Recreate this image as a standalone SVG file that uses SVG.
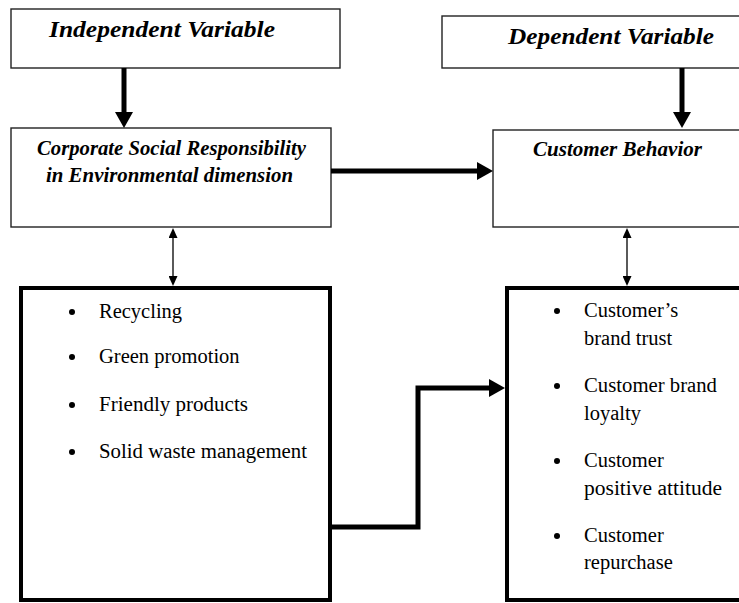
<svg xmlns="http://www.w3.org/2000/svg" width="739" height="603" viewBox="0 0 739 603">
<style>
.thin{fill:#fff;stroke:#222;stroke-width:1.4}
.thick{fill:#fff;stroke:#000;stroke-width:4}
.title{font-family:"Liberation Serif","Times New Roman",serif;font-weight:bold;font-style:italic;font-size:24px;fill:#000}
.head{font-family:"Liberation Serif","Times New Roman",serif;font-weight:bold;font-style:italic;font-size:20.5px;fill:#000}
.item{font-family:"Liberation Serif","Times New Roman",serif;font-size:20.5px;fill:#000}
.bul{fill:#000}
.big{fill:none;stroke:#000;stroke-width:5}
.small{fill:none;stroke:#000;stroke-width:1.3}
</style>
<defs>
<marker id="bigHead" markerUnits="userSpaceOnUse" markerWidth="17" markerHeight="18" viewBox="0 0 16 18" refX="1" refY="9" orient="auto">
<path d="M0,0 L16,9 L0,18 z" fill="#000"/>
</marker>
<marker id="smallHead" markerUnits="userSpaceOnUse" markerWidth="10" markerHeight="9" viewBox="0 0 10 9" refX="1" refY="4.5" orient="auto-start-reverse">
<path d="M0,0 L10,4.5 L0,9 z" fill="#000"/>
</marker>
</defs>

<g id="independent">
<rect class="thin" x="11" y="9" width="329" height="59"/>
<text class="title" x="49" y="37" textLength="226" lengthAdjust="spacingAndGlyphs">Independent Variable</text>
</g>

<g id="dependent">
<rect class="thin" x="442" y="16" width="310" height="52"/>
<text class="title" x="508" y="44" textLength="206" lengthAdjust="spacingAndGlyphs">Dependent Variable</text>
</g>

<g id="csr">
<rect class="thin" x="11" y="128" width="320" height="99"/>
<text class="head" x="37" y="155" textLength="269" lengthAdjust="spacingAndGlyphs">Corporate Social Responsibility</text>
<text class="head" x="46" y="182" textLength="247" lengthAdjust="spacingAndGlyphs">in Environmental dimension</text>
</g>

<g id="behavior">
<rect class="thin" x="493" y="130" width="260" height="97"/>
<text class="head" x="533" y="156" textLength="169" lengthAdjust="spacingAndGlyphs">Customer Behavior</text>
</g>

<g id="csr-items">
<rect class="thick" x="21" y="288" width="309" height="312"/>
<circle class="bul" cx="72" cy="312" r="3"/>
<text class="item" x="99" y="318">Recycling</text>
<circle class="bul" cx="72" cy="357" r="3"/>
<text class="item" x="99" y="363">Green promotion</text>
<circle class="bul" cx="72" cy="405" r="3"/>
<text class="item" x="99" y="411" textLength="149" lengthAdjust="spacingAndGlyphs">Friendly products</text>
<circle class="bul" cx="72" cy="452" r="3"/>
<text class="item" x="99" y="458" textLength="208" lengthAdjust="spacingAndGlyphs">Solid waste management</text>
</g>

<g id="behavior-items">
<rect class="thick" x="507" y="288" width="250" height="312"/>
<circle class="bul" cx="557" cy="311" r="3"/>
<text class="item" x="584" y="317">Customer’s</text>
<text class="item" x="584" y="345">brand trust</text>
<circle class="bul" cx="557" cy="386" r="3"/>
<text class="item" x="584" y="392" textLength="133" lengthAdjust="spacingAndGlyphs">Customer brand</text>
<text class="item" x="584" y="420">loyalty</text>
<circle class="bul" cx="557" cy="461" r="3"/>
<text class="item" x="584" y="467">Customer</text>
<text class="item" x="584" y="495" textLength="138" lengthAdjust="spacingAndGlyphs">positive attitude</text>
<circle class="bul" cx="557" cy="536" r="3"/>
<text class="item" x="584" y="542">Customer</text>
<text class="item" x="584" y="569">repurchase</text>
</g>

<g id="connectors">
<line class="big" x1="124" y1="68" x2="124" y2="113" marker-end="url(#bigHead)"/>
<line class="big" x1="682" y1="68" x2="682" y2="113" marker-end="url(#bigHead)"/>
<line class="big" x1="331" y1="171" x2="478" y2="171" marker-end="url(#bigHead)"/>
<path class="big" d="M332 527 H418 V388 H490" marker-end="url(#bigHead)"/>
<line class="small" x1="173" y1="237" x2="173" y2="277" marker-start="url(#smallHead)" marker-end="url(#smallHead)"/>
<line class="small" x1="627" y1="237" x2="627" y2="277" marker-start="url(#smallHead)" marker-end="url(#smallHead)"/>
</g>
</svg>
